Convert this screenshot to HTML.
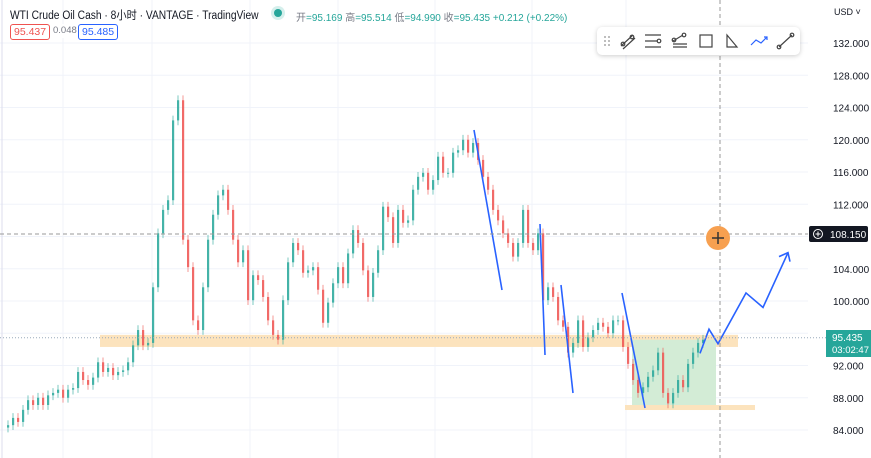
<!DOCTYPE html>
<html><head><meta charset="utf-8">
<style>
body{margin:0;width:871px;height:458px;overflow:hidden;background:#fff;font-family:"Liberation Sans","Noto Sans CJK SC",sans-serif;}
#wrap{position:relative;width:871px;height:458px;}
svg{position:absolute;left:0;top:0;}
.hdr{position:absolute;left:10px;top:7px;font-size:11.5px;color:#131722;white-space:nowrap;transform:scaleX(0.89);transform-origin:0 0;}
.dot{position:absolute;left:274px;top:9px;width:8px;height:8px;border-radius:50%;background:#26a69a;box-shadow:0 0 0 3px #d5efec;}
.ohlc{position:absolute;left:296px;top:9px;font-size:10px;color:#26a69a;white-space:nowrap;}
.ohlc span{color:#787b86}
.box{position:absolute;top:24px;height:14px;font-size:10.5px;line-height:14px;padding:0 3px;border-radius:3px;background:#fff;}
.toolbar{position:absolute;left:597px;top:27px;width:203px;height:28px;background:#fff;border-radius:5px;box-shadow:0 1px 5px rgba(0,0,0,.2);}
</style></head><body>
<div id="wrap">
<svg id="chart" width="871" height="458"></svg>
<div class="hdr">WTI Crude Oil Cash · 8小时 · VANTAGE · TradingView</div>
<div class="dot"></div>
<div class="ohlc"><span>开</span>=95.169 <span>高</span>=95.514 <span>低</span>=94.990 <span>收</span>=95.435 +0.212 (+0.22%)</div>
<div class="box" style="left:10px;border:1px solid #ef5350;color:#ef5350">95.437</div>
<div class="box" style="left:50px;color:#787b86;font-size:9.5px">0.048</div>
<div class="box" style="left:78px;border:1px solid #2962ff;color:#2962ff">95.485</div>
<div class="toolbar">
<svg width="203" height="28">
<g stroke="#444" stroke-width="1.2" fill="none">
<g fill="#aaa" stroke="none"><circle cx="8" cy="10" r="1"/><circle cx="12" cy="10" r="1"/><circle cx="8" cy="14" r="1"/><circle cx="12" cy="14" r="1"/><circle cx="8" cy="18" r="1"/><circle cx="12" cy="18" r="1"/></g>
<path d="M24 19 L36 8 M26 22 L38 11"/><circle cx="26" cy="17" r="1.8"/><circle cx="35" cy="10" r="1.8"/>
<path d="M48 8 H64 M48 14 H60 M48 20 H64"/><circle cx="62" cy="14" r="1.8"/>
<path d="M76 20 H90 M76 17 H90 M76 14 L86 8"/><circle cx="77" cy="13" r="1.8"/><circle cx="87" cy="8" r="1.8"/>
<rect x="103" y="8" width="12" height="12"/>
<path d="M130 8 L130 20 L140 20 Z"/>
<path d="M154 18 L159 13 L164 16 L170 10" stroke="#2962ff"/><path d="M167 10 H170 V13" stroke="#2962ff"/>
<path d="M182 20 L195 8"/><circle cx="182" cy="20" r="1.8"/><circle cx="195" cy="8" r="1.8"/>
</g></svg></div>
</div>
<script>
const closes=[84.6,85.5,85.0,86.5,87.7,87.1,88.0,87.1,88.3,88.6,89.0,88.0,89.0,89.2,91.2,90.2,89.6,90.5,92.4,91.2,91.7,90.8,91.2,91.4,92.4,94.5,96.4,94.5,94.8,
101.7,108.4,111.3,112.5,122.4,124.9,107.6,104.2,97.6,96.4,101.7,107.6,110.7,113.1,113.8,111.3,107.6,104.8,106.3,100.1,103.2,102.6,100.5,97.6,95.8,95.2,100.1,104.8,107.2,106.3,103.5,103.8,104.2,101.4,97.3,99.8,102.2,104.2,102.2,105.9,108.8,107.2,103.8,100.5,103.5,106.3,111.7,110.4,107.2,111.3,109.7,110.0,113.8,115.4,115.9,113.8,115.0,117.9,115.9,115.9,118.4,118.7,120.0,118.4,119.6,117.5,115.4,113.8,111.3,110.0,108.4,107.2,105.5,107.2,111.3,107.2,106.3,108.4,100.1,101.7,100.5,97.6,96.8,93.6,94.8,97.6,94.3,95.5,96.4,97.3,96.8,96.0,97.6,97.6,94.3,92.2,90.2,88.6,89.3,90.6,91.4,93.6,88.6,87.3,88.6,90.2,89.3,92.2,93.6,94.8,95.2];
const priceTicks=[132,128,124,120,116,112,104,100,92,88,84];
const projPrices=[93.5,96.5,94.7,101,99.2,106];
const NS='http://www.w3.org/2000/svg';
const svg=document.getElementById('chart');
const y=p=>43+(132-p)*8.0625;
const xi=i=>8+i*5;
function el(t,a,parent){const e=document.createElementNS(NS,t);for(const k in a)e.setAttribute(k,a[k]);(parent||svg).appendChild(e);return e;}
[63,152,250,338,435,532,626].forEach(gx=>{const g=el('line',{x1:gx,x2:gx,y1:0,y2:458,stroke:'#f0f3fa'});

});
priceTicks.concat([96,108]).forEach(p=>{const g=el('line',{x1:0,x2:808,y1:y(p),y2:y(p),stroke:'#f0f3fa'});

});
el('line',{x1:2,x2:2,y1:0,y2:458,stroke:'#dde'});
let z=el('rect',{x:100,y:y(95.8),width:638,height:y(94.3)-y(95.8),fill:'#fce3bd'});


z=el('rect',{x:632,y:y(95.2),width:84,height:y(86.7)-y(95.2),fill:'#d3ecd6'});


z=el('rect',{x:625,y:y(87.1),width:130,height:5,fill:'#fce3bd'});


for(let i=0;i<closes.length;i++){
 const o=i?closes[i-1]:closes[0]-0.3,c=closes[i];
 const up=c>=o,col=up?'#26a69a':'#ef5350';
 const hi=Math.max(o,c)+0.6,lo=Math.min(o,c)-0.6;
 const w=el('line',{x1:xi(i),x2:xi(i),y1:y(hi),y2:y(lo),stroke:col,'stroke-opacity':0.6,'stroke-width':1});
 
 
 const b=el('rect',{x:xi(i)-1,y:y(Math.max(o,c)),width:2.2,height:Math.max(1,Math.abs(y(o)-y(c))),fill:col,'fill-opacity':0.8});
 
 
}
[[474,130,502,290],[540,224,545,355],[561,285,573,393],[622,293,645,408]].forEach(s=>{
 const l=el('line',{x1:s[0],y1:s[1],x2:s[2],y2:s[3],stroke:'#2962ff','stroke-width':1.6});
 
 });
const projX=[700,709,718,746,763,788];
let d='';projPrices.forEach((p,i)=>d+=(i?'L':'M')+projX[i]+' '+y(p));
let pp=el('path',{d:d,fill:'none',stroke:'#2962ff','stroke-width':1.6});


const ex=788,ey=y(106);
el('path',{d:`M${ex-9} ${ey+4} L${ex} ${ey} L${ex+2} ${ey+9}`,fill:'none',stroke:'#2962ff','stroke-width':1.6});
el('line',{x1:0,x2:826,y1:y(95.435),y2:y(95.435),stroke:'#9ab','stroke-dasharray':'1,2'});
el('line',{x1:0,x2:808,y1:234,y2:234,stroke:'#999','stroke-dasharray':'4,3'});
el('line',{x1:720,x2:720,y1:0,y2:458,stroke:'#999','stroke-dasharray':'4,3'});
let c=el('circle',{cx:718,cy:238,r:12,fill:'#f7a050'});


el('path',{d:'M712 238 H724 M718 232 V244',stroke:'#333','stroke-width':1.5});
priceTicks.forEach(p=>{const t=el('text',{x:833,y:y(p)+4,'font-size':10,fill:'#131722','font-family':'Liberation Sans'});t.textContent=p.toFixed(3);

});
let t=el('text',{x:834,y:15,'font-size':9,fill:'#131722'});t.textContent='USD ˅';


el('rect',{x:809,y:226,width:59,height:16,fill:'#131722',rx:2});
el('circle',{cx:818,cy:234,r:4.5,fill:'none',stroke:'#fff'});
el('path',{d:'M815.5 234 H820.5 M818 231.5 V236.5',stroke:'#fff'});
t=el('text',{x:830,y:238,'font-size':10,fill:'#fff'});t.textContent='108.150';


el('rect',{x:826,y:330,width:45,height:27,fill:'#26a69a'});
t=el('text',{x:832,y:341,'font-size':10,fill:'#fff'});t.textContent='95.435';


t=el('text',{x:832,y:353,'font-size':9.5,fill:'#fff'});t.textContent='03:02:47';


</script>
</body></html>
